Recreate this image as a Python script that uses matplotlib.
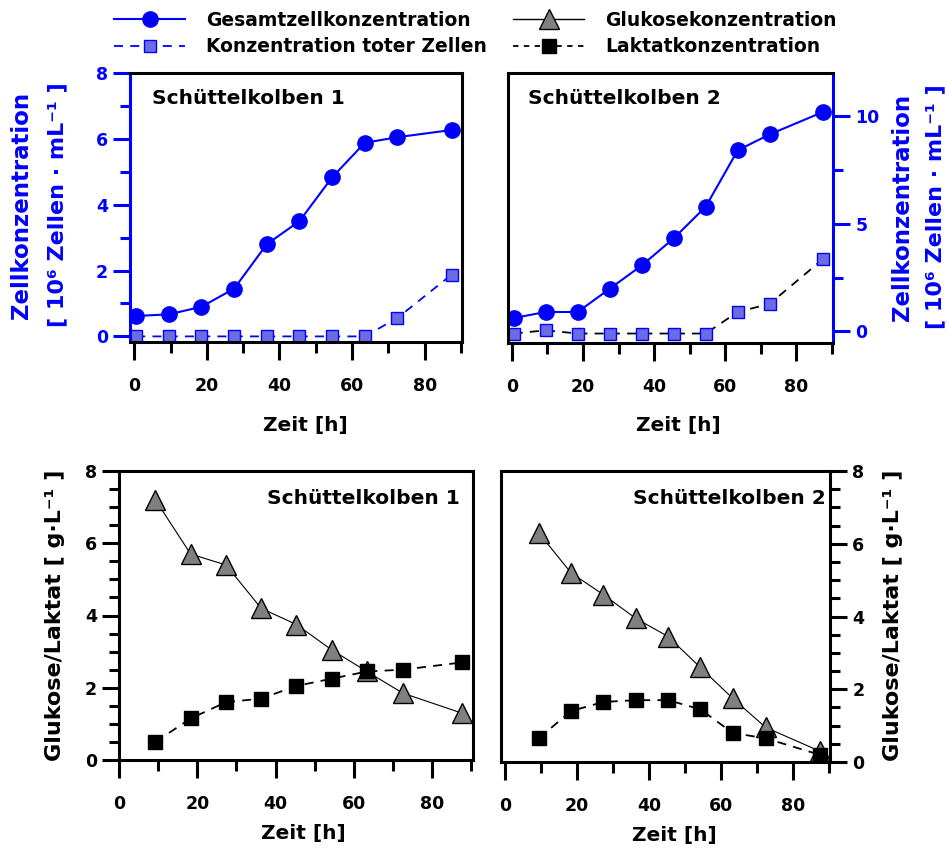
import matplotlib
matplotlib.use('Agg')
import matplotlib.pyplot as plt
from matplotlib.ticker import MultipleLocator
from matplotlib.lines import Line2D

plt.rcParams['font.family'] = ['DejaVu Sans']
plt.rcParams['font.weight'] = 'bold'

# ---------------- data ----------------
time_cells = [0.5, 9.5, 18.5, 27.5, 36.5, 45.5, 54.5, 63.5, 72.5, 87.5]
total_cells_1 = [0.62, 0.67, 0.90, 1.45, 2.80, 3.50, 4.83, 5.88, 6.05, 6.27]
dead_cells_1 = [0.0, 0.0, 0.0, 0.0, 0.0, 0.0, 0.0, 0.0, 0.56, 1.88]
total_cells_2 = [0.62, 0.90, 0.90, 1.98, 3.06, 4.32, 5.79, 8.41, 9.15, 10.19]
dead_cells_2 = [-0.1, 0.05, -0.1, -0.1, -0.1, -0.1, -0.1, 0.90, 1.28, 3.36]

time_metab = [9.3, 18.3, 27.3, 36.3, 45.3, 54.3, 63.3, 72.5, 87.5]
glucose_1 = [7.2, 5.7, 5.4, 4.2, 3.75, 3.05, 2.45, 1.85, 1.3]
lactate_1 = [0.5, 1.15, 1.6, 1.7, 2.05, 2.25, 2.45, 2.5, 2.7]
glucose_2 = [6.3, 5.2, 4.6, 3.95, 3.45, 2.6, 1.75, 0.95, 0.3]
lactate_2 = [0.65, 1.4, 1.65, 1.7, 1.7, 1.45, 0.8, 0.65, 0.2]

legend_labels = ["Gesamtzellkonzentration", "Konzentration toter Zellen",
                 "Glukosekonzentration", "Laktatkonzentration"]
panel_titles = ["Schüttelkolben 1", "Schüttelkolben 2"]
cell_label = ["Zellkonzentration", "[ 10\u2076 Zellen \u00b7 mL\u207b\u00b9 ]"]
metab_label = "Glukose/Laktat [ g\u00b7L\u207b\u00b9 ]"
x_label = "Zeit [h]"

# ---------------- layout ----------------
W, H = 947, 848
fig = plt.figure(figsize=(W / 100, H / 100), dpi=100)

def rect(l, t, r, b):
    return [l / W, 1 - b / H, (r - l) / W, (b - t) / H]

def fpos(x, y):
    return (x / W, 1 - y / H)

BLUE = '#0000ff'
DEADFC = '#6b6be4'
GRAY = '#808080'
LW = 2.2

def style(ax, side, ycol, ymaj, ymin):
    for s in ax.spines.values():
        s.set_linewidth(LW)
        s.set_color('black')
    ax.spines[side].set_color(ycol)
    ax.yaxis.set_ticks_position(side)
    ax.xaxis.set_ticks_position('bottom')
    ax.xaxis.set_major_locator(MultipleLocator(20))
    ax.xaxis.set_minor_locator(MultipleLocator(10))
    ax.yaxis.set_major_locator(MultipleLocator(ymaj))
    ax.yaxis.set_minor_locator(MultipleLocator(ymin))
    ax.tick_params(axis='y', which='both', colors=ycol, width=LW, direction='out')
    ax.tick_params(axis='y', which='major', length=12, pad=4, labelsize=12.5)
    ax.tick_params(axis='y', which='minor', length=7)
    ax.tick_params(axis='x', which='major', length=13, width=LW, pad=12, labelsize=12.5)
    ax.tick_params(axis='x', which='minor', length=8, width=LW)

# Top-left
ax1 = fig.add_axes(rect(130, 73, 462, 342))
ax1.plot(time_cells, total_cells_1, '-', color=BLUE, lw=1.5, marker='o', ms=11,
         mfc=BLUE, mec=BLUE)
ax1.plot(time_cells, dead_cells_1, '--', color=BLUE, lw=1.3, marker='s', ms=8.5,
         mfc=DEADFC, mec=BLUE, dashes=(5, 4))
ax1.set_xlim(-1.2, 90.3)
ax1.set_ylim(-0.17, 8)
style(ax1, 'left', BLUE, 2, 1)

# Top-right
ax2 = fig.add_axes(rect(508, 73, 833, 343))
ax2.plot(time_cells, total_cells_2, '-', color=BLUE, lw=1.5, marker='o', ms=11,
         mfc=BLUE, mec=BLUE)
ax2.plot(time_cells, dead_cells_2, '--', color='black', lw=1.3, marker='s', ms=8.5,
         mfc=DEADFC, mec=BLUE, dashes=(5, 4))
ax2.set_xlim(-1.1, 90.3)
ax2.set_ylim(-0.54, 12)
style(ax2, 'right', BLUE, 5, 2.5)

# Bottom-left
ax3 = fig.add_axes(rect(119, 471, 473, 760))
ax3.plot(time_metab, glucose_1, '-', color='black', lw=0.8, marker='^', ms=14,
         mfc=GRAY, mec='black', mew=1)
ax3.plot(time_metab, lactate_1, '--', color='black', lw=1.3, marker='s', ms=9.5,
         mfc='black', mec='black', dashes=(5, 4))
ax3.set_xlim(0, 90.4)
ax3.set_ylim(0, 8)
style(ax3, 'left', 'black', 2, 0.5)

# Bottom-right
ax4 = fig.add_axes(rect(501, 471, 830, 762))
ax4.plot(time_metab, glucose_2, '-', color='black', lw=0.8, marker='^', ms=14,
         mfc=GRAY, mec='black', mew=1)
ax4.plot(time_metab, lactate_2, '--', color='black', lw=1.3, marker='s', ms=9.5,
         mfc='black', mec='black', dashes=(5, 4))
ax4.set_xlim(-1.2, 90.4)
ax4.set_ylim(0, 8)
style(ax4, 'right', 'black', 2, 0.5)

for ax in (ax1, ax2, ax3, ax4):
    for lab in ax.get_xticklabels() + ax.get_yticklabels():
        lab.set_fontweight('bold')

# panel titles
fig.text(*fpos(152, 98), panel_titles[0], fontsize=14.5, fontweight='bold', ha='left', va='center')
fig.text(*fpos(528, 98), panel_titles[1], fontsize=14.5, fontweight='bold', ha='left', va='center')
fig.text(*fpos(460, 498), panel_titles[0], fontsize=14.5, fontweight='bold', ha='right', va='center')
fig.text(*fpos(826, 499), panel_titles[1], fontsize=14.5, fontweight='bold', ha='right', va='center')

# x labels
for (x, y) in [(305, 426), (678, 426), (303, 833), (674, 835)]:
    fig.text(*fpos(x, y), x_label, fontsize=14.5, fontweight='bold', ha='center', va='center')

# y labels
fig.text(*fpos(22, 205), cell_label[0], rotation=90, color=BLUE, fontsize=16.5,
         fontweight='bold', ha='center', va='center')
fig.text(*fpos(57, 205), cell_label[1], rotation=90, color=BLUE, fontsize=16,
         fontweight='bold', ha='center', va='center')
fig.text(*fpos(902, 207), cell_label[0], rotation=90, color=BLUE, fontsize=16.5,
         fontweight='bold', ha='center', va='center')
fig.text(*fpos(935, 207), cell_label[1], rotation=90, color=BLUE, fontsize=16,
         fontweight='bold', ha='center', va='center')
fig.text(*fpos(55, 615), metab_label, rotation=90, color='black', fontsize=16,
         fontweight='bold', ha='center', va='center')
fig.text(*fpos(893, 615), metab_label, rotation=90, color='black', fontsize=16,
         fontweight='bold', ha='center', va='center')

# legend
handles = [
    Line2D([], [], color=BLUE, lw=1.5, marker='o', ms=11, mfc=BLUE, mec=BLUE),
    Line2D([], [], color=BLUE, lw=1.3, ls='--', dashes=(5, 4), marker='s', ms=8.5,
           mfc=DEADFC, mec=BLUE),
    Line2D([], [], color='black', lw=1.0, marker='^', ms=14, mfc=GRAY, mec='black'),
    Line2D([], [], color='black', lw=1.3, ls='--', dashes=(3, 3), marker='s', ms=9.5,
           mfc='black', mec='black'),
]
fig.legend(handles, legend_labels, ncol=2, loc='upper left',
           bbox_to_anchor=fpos(114, 11), frameon=False,
           prop={'size': 13.5, 'weight': 'bold'}, handlelength=3.8,
           handletextpad=1.1, columnspacing=1.4, labelspacing=0.4,
           borderpad=0, borderaxespad=0)

fig.savefig('out.png', dpi=100)
